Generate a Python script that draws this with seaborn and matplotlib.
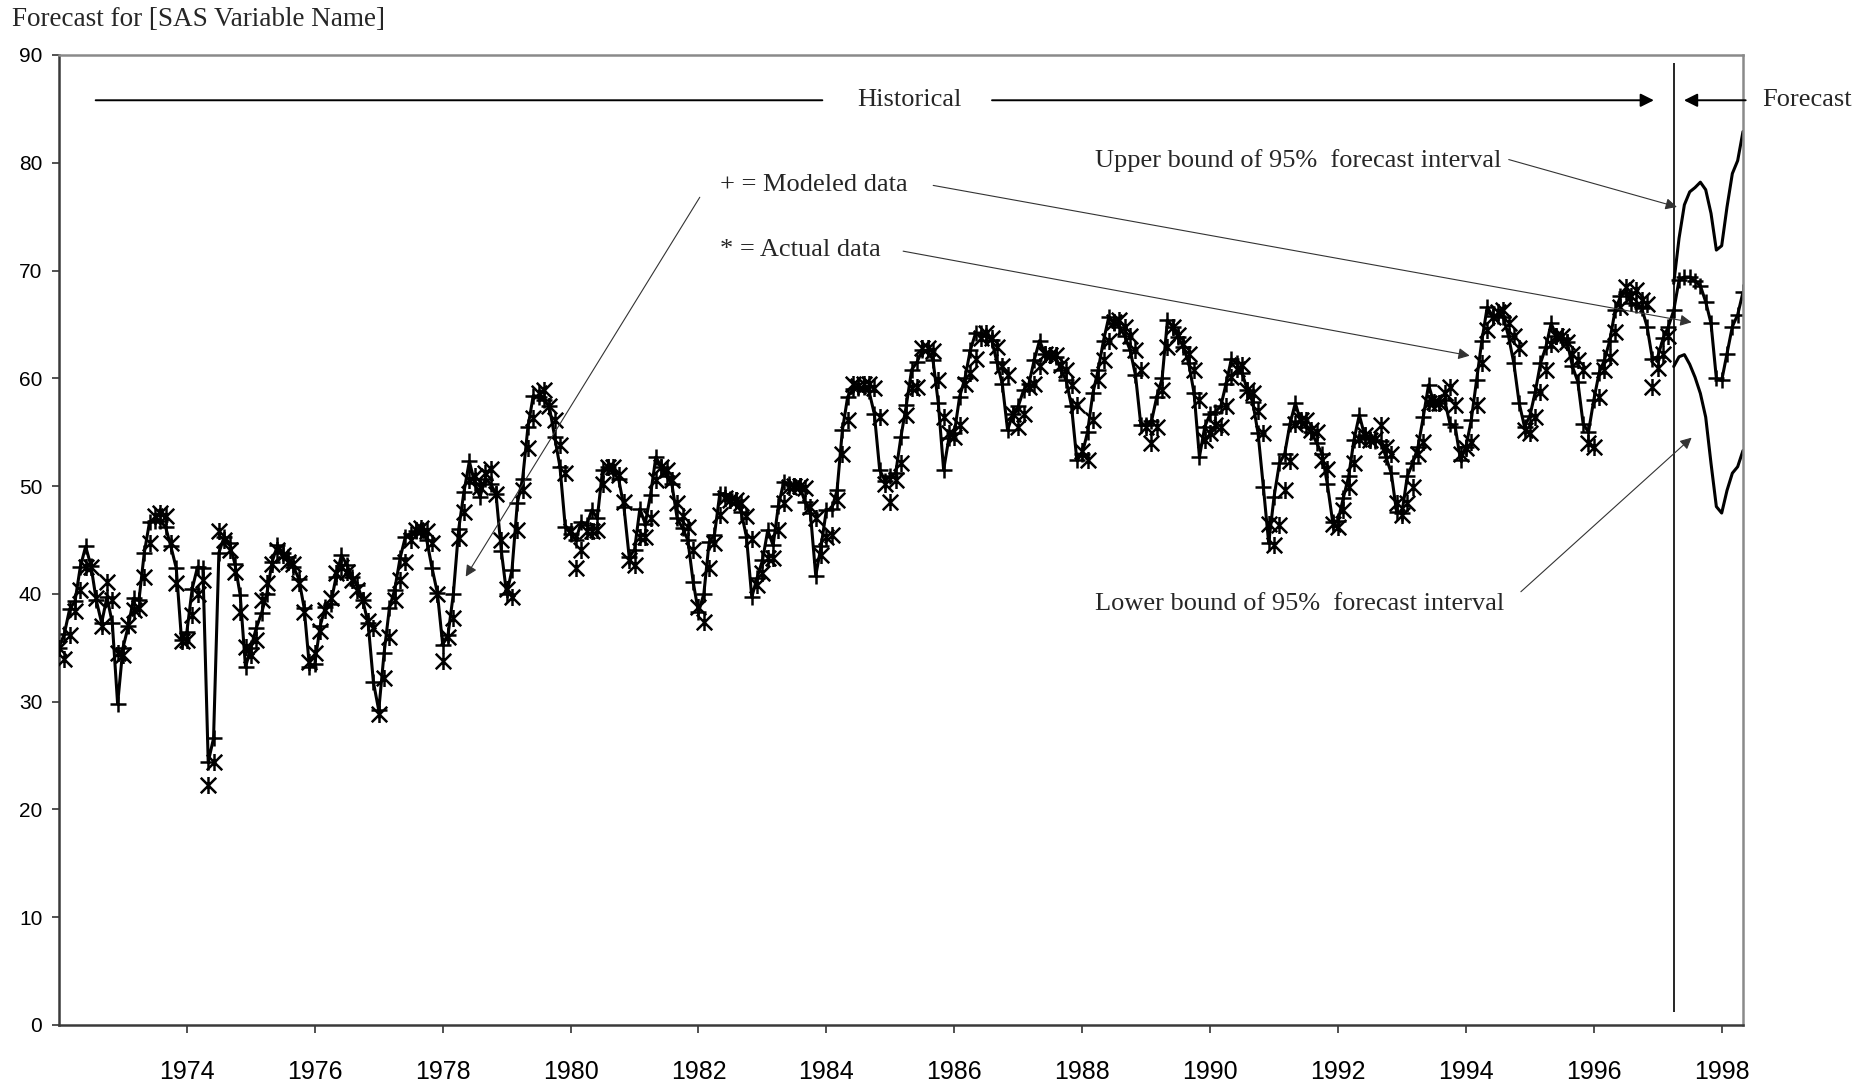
import numpy as np
import pandas as pd
import matplotlib
matplotlib.use("Agg")
import matplotlib.pyplot as plt
import seaborn as sns
from matplotlib.path import Path

# monthly series, Jan 1972 onwards
start_year = 1972

actual = [
    35.0, 34.0, 36.2, 38.4, 40.4, 42.5, 42.5, 39.6, 37.0, 41.1, 39.4, 34.5,
    34.3, 37.1, 38.5, 38.7, 41.6, 44.7, 47.2, 47.5, 47.2, 44.7, 41.0, 35.6,
    35.7, 38.0, 40.0, 41.3, 22.3, 24.4, 45.8, 45.0, 44.1, 42.0, 38.3, 35.1,
    34.3, 35.7, 39.4, 41.0, 42.8, 44.1, 43.6, 43.0, 42.8, 41.0, 38.3, 33.7,
    34.5, 36.6, 38.5, 39.6, 41.9, 42.5, 42.0, 41.3, 40.4, 39.4, 37.5, 36.8,
    28.9, 32.2, 36.0, 39.4, 41.3, 43.0, 45.0, 45.9, 46.1, 45.8, 44.7, 40.0,
    33.8, 36.0, 37.8, 45.2, 47.6, 50.6, 50.9, 49.9, 51.2, 51.6, 49.3, 45.0,
    40.5, 39.7, 45.9, 49.6, 53.5, 56.3, 58.6, 58.9, 57.4, 56.1, 53.8, 51.2,
    45.8, 42.4, 44.1, 45.8, 45.8, 45.9, 50.2, 51.8, 51.8, 51.0, 48.5, 43.1,
    42.7, 45.3, 45.3, 47.0, 50.6, 51.8, 51.5, 50.6, 48.4, 47.2, 46.2, 44.1,
    38.8, 37.4, 42.4, 44.7, 47.3, 48.9, 48.7, 48.7, 48.4, 47.2, 45.1, 40.8,
    41.9, 43.3, 43.3, 45.9, 48.4, 49.9, 50.0, 50.0, 49.8, 48.1, 47.0, 43.6,
    45.3, 45.5, 48.7, 53.0, 56.1, 59.5, 59.3, 59.5, 59.5, 59.1, 56.4, 50.2,
    48.5, 50.6, 52.1, 56.6, 59.1, 59.2, 62.8, 62.8, 62.5, 59.8, 56.4, 54.9,
    54.6, 55.7, 59.5, 60.5, 61.8, 63.7, 64.2, 63.7, 62.9, 61.1, 60.3, 56.7,
    55.5, 56.7, 59.2, 59.5, 61.1, 62.3, 62.2, 62.2, 61.2, 60.8, 59.4, 57.5,
    53.3, 52.4, 56.1, 59.8, 61.7, 63.5, 65.2, 65.4, 64.8, 63.9, 62.6, 60.8,
    55.5, 54.0, 55.5, 58.9, 62.9, 64.8, 64.0, 63.2, 62.3, 60.8, 58.0, 54.3,
    54.9, 55.7, 55.5, 57.4, 60.1, 60.9, 61.2, 58.9, 58.6, 57.0, 54.9, 46.5,
    44.5, 46.4, 49.6, 52.3, 55.8, 56.1, 56.1, 55.2, 55.0, 52.4, 51.6, 46.5,
    46.2, 47.8, 49.9, 52.1, 54.4, 54.7, 54.3, 54.4, 55.7, 53.6, 53.0, 48.4,
    47.3, 48.4, 49.9, 53.0, 54.1, 57.7, 57.8, 57.7, 58.6, 59.2, 57.5, 53.0,
    53.5, 54.1, 57.5, 61.4, 64.5, 65.7, 66.2, 66.3, 65.1, 63.9, 62.8, 55.2,
    54.9, 56.4, 58.7, 60.8, 63.2, 63.9, 63.9, 63.4, 62.3, 61.7, 60.8, 54.0,
    53.6, 58.3, 60.8, 62.0, 64.3, 66.6, 68.5, 67.6, 68.2, 67.3, 66.9, 59.2,
    61.0, 62.3, 63.9,
]

modeled = [
    35.0, 36.3, 38.6, 39.3, 42.5, 44.4, 42.6, 39.4, 37.3, 39.7, 37.3, 29.8,
    35.0, 37.0, 39.6, 39.4, 43.8, 46.7, 46.8, 46.8, 46.2, 44.4, 42.4, 35.7,
    36.5, 40.5, 42.5, 42.4, 24.4, 26.6, 43.8, 45.3, 44.7, 42.8, 39.9, 33.2,
    35.0, 36.8, 38.2, 40.0, 43.0, 44.5, 43.8, 43.4, 42.5, 41.4, 38.7, 33.2,
    33.5, 37.0, 38.8, 39.1, 41.6, 43.6, 42.7, 41.6, 40.8, 39.4, 37.3, 31.8,
    29.2, 34.5, 38.7, 40.4, 43.3, 45.3, 45.6, 45.8, 45.9, 45.0, 42.4, 40.1,
    35.3, 36.2, 40.0, 46.0, 49.5, 52.3, 50.3, 49.0, 50.7, 50.2, 49.3, 44.0,
    40.0, 42.2, 48.4, 50.7, 55.5, 58.4, 58.3, 58.0, 57.4, 54.6, 51.8, 46.2,
    45.6, 45.0, 46.7, 46.4, 47.8, 47.0, 51.5, 51.8, 51.2, 50.7, 48.1, 43.4,
    44.1, 47.9, 46.5, 49.2, 52.7, 51.8, 50.9, 50.2, 47.0, 46.1, 45.0, 41.1,
    38.3, 40.0, 44.8, 45.5, 49.3, 49.3, 48.8, 48.7, 47.6, 45.3, 39.7, 41.5,
    43.1, 45.9, 44.5, 48.2, 50.4, 50.2, 50.0, 50.0, 48.5, 47.5, 41.7, 44.4,
    47.8, 47.9, 49.6, 55.2, 58.3, 59.0, 59.1, 59.2, 58.8, 56.7, 51.5, 50.5,
    50.9, 51.2, 54.6, 57.5, 60.8, 61.5, 62.6, 62.6, 61.7, 57.7, 51.5, 54.5,
    54.9, 58.3, 60.0, 62.6, 64.2, 64.2, 63.9, 63.6, 61.5, 59.5, 55.2, 56.7,
    57.4, 58.9, 59.5, 61.7, 63.5, 62.3, 62.2, 62.0, 60.8, 59.8, 57.4, 52.4,
    53.0, 55.0, 58.6, 60.8, 63.5, 65.7, 65.1, 64.8, 63.9, 62.6, 60.3, 55.7,
    55.7, 56.0, 58.3, 60.0, 65.4, 64.8, 63.8, 62.9, 61.4, 58.6, 52.7, 55.5,
    56.7, 56.9, 57.4, 59.5, 61.8, 61.4, 60.5, 58.9, 57.8, 54.9, 49.9, 44.7,
    49.0, 52.1, 53.0, 55.8, 57.7, 56.0, 55.5, 55.0, 54.0, 53.0, 50.2, 46.7,
    46.8, 48.9, 50.9, 54.3, 56.6, 54.7, 54.4, 54.2, 54.2, 52.7, 51.2, 47.6,
    47.5, 50.9, 52.1, 53.6, 56.4, 59.4, 57.7, 57.7, 58.0, 55.8, 55.5, 52.4,
    53.6, 56.1, 59.8, 63.5, 66.6, 65.8, 65.8, 65.7, 63.9, 61.4, 57.7, 55.5,
    56.5, 58.7, 61.4, 62.9, 65.1, 63.9, 63.7, 63.4, 61.1, 59.7, 55.8, 55.0,
    58.0, 60.5, 61.7, 63.5, 66.3, 67.6, 68.0, 67.0, 66.8, 66.5, 64.8, 61.8,
    62.0, 63.7, 64.8,
]

forecast = [66.3, 69.1, 69.4, 69.4, 69.0, 68.6, 67.1, 65.1, 60.0, 59.8, 62.3, 64.8, 65.9, 68.0]
upper = [68.8, 73.0, 76.1, 77.3, 77.7, 78.2, 77.5, 75.3, 71.9, 72.3, 75.9, 79.0, 80.2, 82.9]
lower = [61.1, 62.0, 62.2, 61.3, 60.1, 58.6, 56.4, 52.1, 48.1, 47.5, 49.6, 51.2, 51.8, 53.3]

year_ticks = list(range(1974, 1999, 2))
value_ticks = list(range(0, 91, 10))

n_hist = len(actual)
t = start_year + np.arange(n_hist + len(forecast)) / 12.0

hist = pd.DataFrame({"t": t[:n_hist], "actual": actual})
model_all = pd.DataFrame({"t": t, "modeled": modeled + forecast})
fc = pd.DataFrame({"t": t[n_hist:], "upper": upper, "lower": lower})

sns.set_style("ticks")
plt.rcParams["font.family"] = ["Liberation Sans", "DejaVu Sans"]
serif = ["Liberation Serif", "DejaVu Serif"]

fig = plt.figure(figsize=(18.72, 10.9), dpi=100)
ax = fig.add_axes([59 / 1872, 1 - 1025 / 1090, (1743 - 59) / 1872, (1025 - 55) / 1090])

# asterisk marker: X with a vertical bar
star = Path([(-1, -1), (1, 1), (-1, 1), (1, -1), (0, -1.1), (0, 1.1)],
            [Path.MOVETO, Path.LINETO] * 3)

sns.lineplot(data=model_all, x="t", y="modeled", ax=ax, color="black", lw=2.2,
             marker="+", markersize=11, markeredgewidth=1.8, markeredgecolor="black")
sns.scatterplot(data=hist, x="t", y="actual", ax=ax, marker=star, s=150,
                color="black", edgecolor="black", linewidth=1.8, zorder=3)
sns.lineplot(data=fc, x="t", y="upper", ax=ax, color="black", lw=2.2)
sns.lineplot(data=fc, x="t", y="lower", ax=ax, color="black", lw=2.2)

t0 = t[n_hist]
ax.vlines(t0, 1.2, 89.3, color="black", lw=1.2)

ax.set_xlim(t[0], t[-1])
ax.set_ylim(0, 90)
ax.set_xticks(year_ticks)
ax.set_xticklabels([str(y) for y in year_ticks])
ax.set_yticks(value_ticks)
ax.set_xlabel("")
ax.set_ylabel("")
ax.tick_params(axis="x", labelsize=18, length=6, width=1.2, pad=19, colors="#333333", labelcolor="black")
ax.tick_params(axis="y", labelsize=15, length=5, width=1.2, pad=7, colors="#333333", labelcolor="black")
for s in ["left", "bottom"]:
    ax.spines[s].set_color("#3a3a3a")
    ax.spines[s].set_linewidth(1.8)
for s in ["top", "right"]:
    ax.spines[s].set_color("#8a8a8a")
    ax.spines[s].set_linewidth(1.8)

fig.text(12 / 1872, 1 - 25.6 / 1090, "Forecast for [SAS Variable Name]",
         family=serif, fontsize=19.5, va="baseline", ha="left")

# historical / forecast header
hy = 85.8
ax.annotate("", xy=(1983.98, hy), xytext=(1972.53, hy),
            arrowprops=dict(arrowstyle="-", color="black", lw=1.4))
ax.text(1985.30, hy, "Historical", family=serif, fontsize=19, ha="center", va="center")
ax.annotate("", xy=(1996.94, hy), xytext=(1986.59, hy),
            arrowprops=dict(arrowstyle="-|>", color="black", lw=1.4, mutation_scale=20,
                            shrinkA=0, shrinkB=0), annotation_clip=False)
ax.annotate("", xy=(1997.41, hy), xytext=(1998.375, hy),
            arrowprops=dict(arrowstyle="-|>", color="black", lw=1.4, mutation_scale=20,
                            shrinkA=0, shrinkB=0), annotation_clip=False)
ax.text(1998.63, hy, "Forecast", family=serif, fontsize=19, ha="left", va="center")

# callouts
ax.text(1982.33, 77.9, "+ = Modeled data", family=serif, fontsize=19, ha="left", va="center")
ax.text(1982.33, 71.9, "* = Actual data", family=serif, fontsize=19, ha="left", va="center")
ax.text(1988.20, 80.2, "Upper bound of 95%  forecast interval", family=serif, fontsize=19,
        ha="left", va="center")
ax.text(1988.20, 39.1, "Lower bound of 95%  forecast interval", family=serif, fontsize=19,
        ha="left", va="center")

callouts = [
    ((1982.02, 76.8), (1978.36, 41.6)),
    ((1985.67, 77.9), (1997.53, 65.2)),
    ((1985.20, 71.8), (1994.06, 62.1)),
    ((1994.67, 80.3), (1997.30, 75.9)),
    ((1994.86, 40.2), (1997.53, 54.5)),
]
for start, end in callouts:
    ax.annotate("", xy=end, xytext=start,
                arrowprops=dict(arrowstyle="-|>", color="#333333", lw=0.8, mutation_scale=17,
                                shrinkA=0, shrinkB=0))

fig.savefig("out.png", dpi=100)
plt.close(fig)
